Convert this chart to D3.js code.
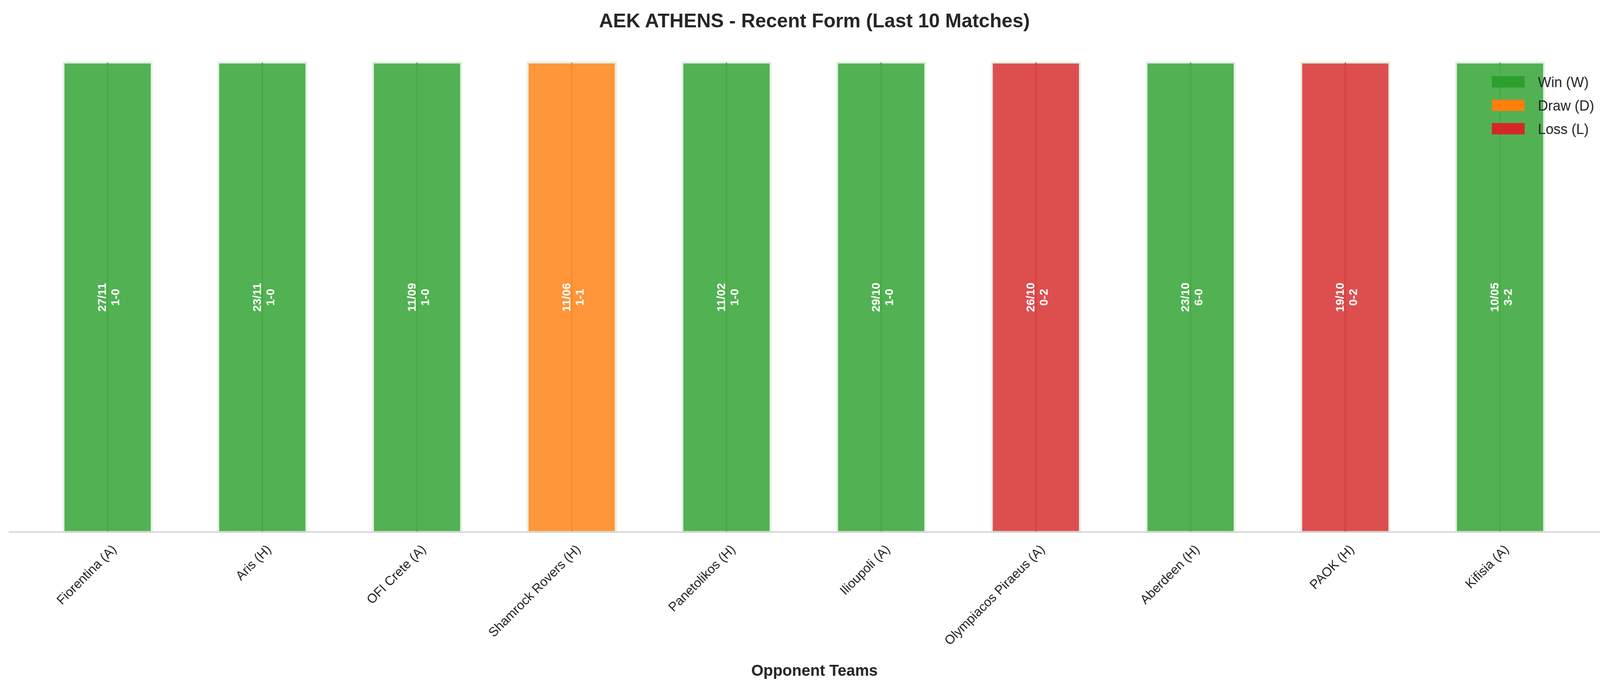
<!DOCTYPE html>
<html>
<head>
<meta charset="utf-8">
<script src="https://cdn.jsdelivr.net/npm/d3@7"></script>
<style>
  body { margin: 0; background: #fff; }
  text { font-family: "Liberation Sans", Arial, sans-serif; }
</style>
</head>
<body>
<svg id="chart" width="4170" height="1769"></svg>
<script>
const opponents = ['Fiorentina (A)', 'Aris (H)', 'OFI Crete (A)', 'Shamrock Rovers (H)', 'Panetolikos (H)',
    'Ilioupoli (A)', 'Olympiacos Piraeus (A)', 'Aberdeen (H)', 'PAOK (H)', 'Kifisia (A)'];
const results = ['W', 'W', 'W', 'D', 'W', 'W', 'L', 'W', 'L', 'W'];
const dates = ['27/11', '23/11', '11/09', '11/06', '11/02', '29/10', '26/10', '23/10', '19/10', '10/05'];
const scores = ['1-0', '1-0', '1-0', '1-1', '1-0', '1-0', '0-2', '6-0', '0-2', '3-2'];
const legendLabels = [['W', 'Win (W)'], ['D', 'Draw (D)'], ['L', 'Loss (L)']];

const colors = { W: '#2ca02c', D: '#ff7f0e', L: '#d62728' };
const lineColors = { W: '#45a845', D: '#f08a2c', L: '#d04040' };

const svg = d3.select('#chart');
const plotLeft = 22, plotRight = 4145, plotTop = 160, plotBottom = 1362;

const x = d3.scaleLinear().domain([-0.64, 9.77]).range([plotLeft, plotRight]);
const y = d3.scaleLinear().domain([0, 1]).range([plotBottom, plotTop]);
const barW = x(0.57) - x(0);

// Bars
const bars = svg.append('g').selectAll('g')
    .data(opponents.map((o, i) => ({ o, i, r: results[i], d: dates[i], s: scores[i] })))
    .enter().append('g');

bars.append('rect')
    .attr('x', d => x(d.i) - barW / 2)
    .attr('y', y(1))
    .attr('width', barW)
    .attr('height', y(0) - y(1))
    .attr('fill', d => colors[d.r])
    .attr('fill-opacity', 0.82)
    .attr('stroke', '#e4f2e4')
    .attr('stroke-width', 5);

bars.append('line')
    .attr('x1', d => x(d.i)).attr('x2', d => x(d.i))
    .attr('y1', y(1)).attr('y2', y(0))
    .attr('stroke', d => lineColors[d.r])
    .attr('stroke-width', 3);

// Rotated labels inside bars
const lbl = bars.append('text')
    .attr('transform', d => `translate(${x(d.i)},${(y(0) + y(1)) / 2}) rotate(-90)`)
    .attr('text-anchor', 'middle')
    .attr('fill', '#fff')
    .attr('font-weight', 'bold')
    .attr('font-size', 30);
lbl.append('tspan').attr('x', 0).attr('dy', -4).text(d => d.d);
lbl.append('tspan').attr('x', 0).attr('dy', 34).text(d => d.s);

// Axis line
svg.append('line')
    .attr('x1', plotLeft).attr('x2', plotRight)
    .attr('y1', plotBottom).attr('y2', plotBottom)
    .attr('stroke', '#cfcfcf').attr('stroke-width', 3);

// Tick labels
svg.append('g').selectAll('text')
    .data(opponents)
    .enter().append('text')
    .attr('transform', (d, i) => `translate(${x(i) + 8},${plotBottom + 30}) rotate(-45)`)
    .attr('text-anchor', 'end')
    .attr('dy', '0.7em')
    .attr('font-size', 33)
    .attr('fill', '#262626')
    .text(d => d);

// Title and axis label
svg.append('text')
    .attr('x', 2085).attr('y', 70)
    .attr('text-anchor', 'middle')
    .attr('font-size', 50).attr('font-weight', 'bold').attr('fill', '#262626')
    .text('AEK ATHENS - Recent Form (Last 10 Matches)');

svg.append('text')
    .attr('x', 2085).attr('y', 1730)
    .attr('text-anchor', 'middle')
    .attr('font-size', 40).attr('font-weight', 'bold').attr('fill', '#262626')
    .text('Opponent Teams');

// Legend
const leg = svg.append('g').selectAll('g')
    .data(legendLabels)
    .enter().append('g')
    .attr('transform', (d, i) => `translate(3819,${195 + i * 60})`);
leg.append('rect').attr('width', 84).attr('height', 29).attr('fill', d => colors[d[0]]);
leg.append('text')
    .attr('x', 118).attr('y', 15).attr('dy', '0.35em')
    .attr('font-size', 36).attr('fill', '#262626')
    .text(d => d[1]);
</script>
</body>
</html>
